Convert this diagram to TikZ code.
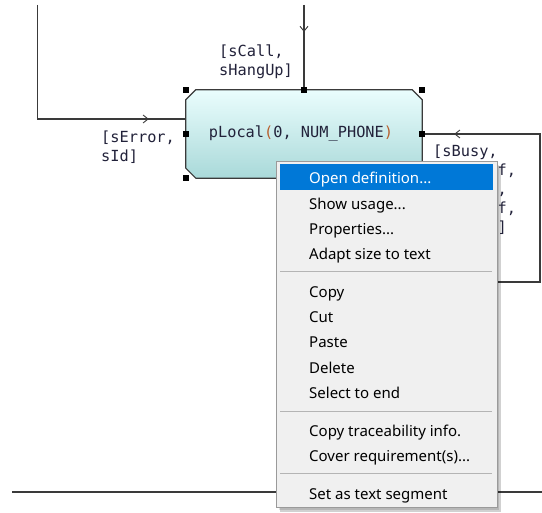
\documentclass[tikz,border=0pt]{standalone}
\usepackage{fontspec}
\setmainfont{Noto Sans}
\newfontfamily\codefont{DejaVu Sans Mono}
\usetikzlibrary{decorations.markings,arrows.meta}

\definecolor{wire}{HTML}{3A3A3A}
\definecolor{codeink}{HTML}{22223A}
\definecolor{paren}{HTML}{B8602E}
\definecolor{boxtop}{HTML}{EAFDFD}
\definecolor{boxbot}{HTML}{A9D9D9}
\definecolor{menubg}{HTML}{F0F0F0}
\definecolor{menuedge}{HTML}{9A9A9A}
\definecolor{menusel}{HTML}{0078D7}
\definecolor{sepline}{HTML}{B4B4B4}

\tikzset{
  wireline/.style={draw=wire, line width=1.2pt},
  midtip/.style={postaction={decorate}, decoration={markings,
      mark=at position #1 with {\arrow{Straight Barb[length=5pt,width=8pt,line width=0.9pt]}}}},
  procframe/.style={rectangle, minimum width=236pt, minimum height=88pt, inner sep=0pt},
  procskin/.style={draw=wire, line width=1.2pt, top color=boxtop, bottom color=boxbot},
  codetext/.style={inner sep=0pt, text=codeink,
      font=\codefont\fontsize{15.3pt}{19pt}\selectfont},
  handle/.style={fill=black, minimum size=6pt, inner sep=0pt},
  sig/.style={codetext, anchor=base west},
  menuitem/.style={anchor=base west, inner sep=0pt, text=black,
      font=\fontsize{15pt}{18pt}\selectfont},
  menusep/.style={draw=sepline, line width=1pt},
}

\begin{document}
\begin{tikzpicture}[x=1pt,y=-1pt]
\fill[white] (0,0) rectangle (542,513);
\useasboundingbox (0,0) rectangle (542,513);

% process state: frame node for anchors, chamfered shaded outline, label
\node[procframe] (proc) at (304,134) {};
\path[procskin]
  ([yshift=-10pt]proc.north west) -- ([xshift=10pt]proc.north west)
  -- ([xshift=-10pt]proc.north east) -- ([yshift=-10pt]proc.north east)
  -- ([yshift=10pt]proc.south east) -- ([xshift=-10pt]proc.south east)
  -- ([xshift=10pt]proc.south west) -- ([yshift=10pt]proc.south west) -- cycle;
\node[codetext] (proclabel) at (301,133)
  {pLocal\textcolor{paren}{(}0, NUM\_PHONE\textcolor{paren}{)}};

% incoming transitions
\coordinate (lstart) at (37.5,5);
\coordinate (tstart) at (304,5);
\coordinate (rstart) at (470,282);
\coordinate (rcorner) at (540,282);
\draw[wireline, midtip=-37pt] (lstart) |- ([yshift=15pt]proc.west);
\draw[wireline, midtip=27pt] (tstart) -- (proc.north);
\draw[wireline, midtip=-32pt] (rstart) -- (rcorner) |- (proc.east);

% selection handles
\node[handle] (hnw) at (proc.north west) {};
\node[handle] (hn)  at (proc.north) {};
\node[handle] (hne) at (proc.north east) {};
\node[handle] (hw)  at (proc.west) {};
\node[handle] (he)  at (proc.east) {};
\node[handle] (hsw) at (proc.south west) {};

% signal lists
\node[sig] (call1) at (219,57) {[sCall,};
\node[sig] (call2) at (219,76) {sHangUp]};
\node[sig] (err1) at (101,143) {[sError,};
\node[sig] (err2) at (101,162) {sId]};
\node[sig] (busy1) at (433,157) {[sBusy,};
\node[sig] (busy2) at (497.5,176) {f,};
\node[sig] (busy3) at (497.5,195) {,};
\node[sig] (busy4) at (497.5,214) {f,};
\node[sig] (busy5) at (497.5,233) {]};

% text segment divider
\coordinate (divl) at (12,492);
\coordinate (divr) at (542,492);
\draw[wireline] (divl) -- (divr);

% context menu
\fill[black, opacity=0.18] (280,166) rectangle (501,512);
\fill[black, opacity=0.12] (279,165) rectangle (499,510);
\node[draw=menuedge, fill=menubg, line width=1pt, minimum width=221pt,
      minimum height=346pt, inner sep=0pt] (menu) at (386.5,335) {};
\node[fill=menusel, minimum width=213pt, minimum height=26pt,
      inner sep=0pt] (sel) at (386.5,177) {};

\node[menuitem, text=white] (m1) at (309,184) {Open definition...};
\node[menuitem] (m2) at (309,209.5) {Show usage...};
\node[menuitem] (m3) at (309,235) {Properties...};
\node[menuitem] (m4) at (309,260) {Adapt size to text};
\draw[menusep] (280,272) -- (492,272);
\node[menuitem] (m5) at (309,298) {Copy};
\node[menuitem] (m6) at (309,323) {Cut};
\node[menuitem] (m7) at (309,348) {Paste};
\node[menuitem] (m8) at (309,373.5) {Delete};
\node[menuitem] (m9) at (309,399) {Select to end};
\draw[menusep] (280,412) -- (492,412);
\node[menuitem] (m10) at (309,437) {Copy traceability info.};
\node[menuitem] (m11) at (309,462) {Cover requirement(s)...};
\draw[menusep] (280,474) -- (492,474);
\node[menuitem] (m12) at (309,500) {Set as text segment};
\end{tikzpicture}
\end{document}
